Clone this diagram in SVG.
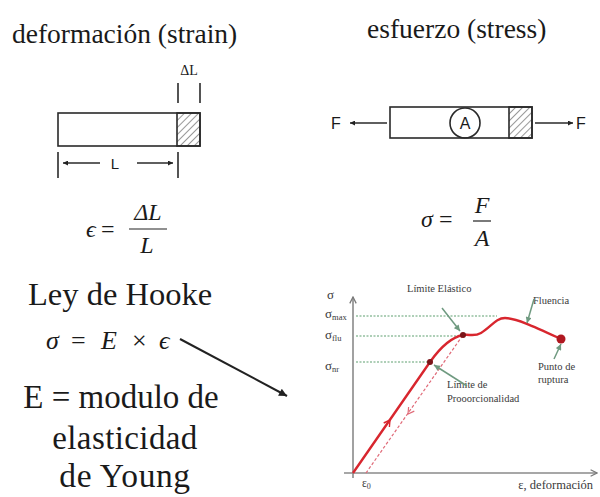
<svg xmlns="http://www.w3.org/2000/svg" width="600" height="497" viewBox="0 0 600 497">
<defs>
<style>
.t{font-family:"Liberation Serif","DejaVu Serif",serif;fill:#1a1a1a}
.m{font-family:"Liberation Serif","DejaVu Serif",serif;font-style:italic;fill:#1a1a1a}
.n{font-family:"Liberation Serif","DejaVu Serif",serif;fill:#1a1a1a}
.s{font-family:"Liberation Sans","DejaVu Sans",sans-serif;fill:#1a1a1a}
.g{font-family:"Liberation Serif","DejaVu Serif",serif;fill:#3a3a3a}
.ln{stroke:#2a2a2a;stroke-width:1.6;fill:none}
.gd{stroke:#5f9f70;stroke-width:1.2;stroke-dasharray:2,1.5;fill:none}
.ga{stroke:#6f9a80;stroke-width:1.5;fill:none}
.ax{stroke:#8a8a8a;stroke-width:1.6;fill:none}
.red{stroke:#d8262e;stroke-width:2.4;fill:none}
</style>
<pattern id="hatch" width="5" height="5" patternUnits="userSpaceOnUse" patternTransform="rotate(45)">
<line x1="0" y1="0" x2="0" y2="5" stroke="#333" stroke-width="1"/>
</pattern>
<marker id="ah" viewBox="0 0 10 10" refX="10" refY="5" markerWidth="8" markerHeight="5" markerUnits="userSpaceOnUse" orient="auto">
<path d="M0,0 L10,5 L0,10 Z" fill="#222"/>
</marker>
<marker id="ahb" viewBox="0 0 10 10" refX="10" refY="5" markerWidth="11" markerHeight="8" markerUnits="userSpaceOnUse" orient="auto">
<path d="M0,0 L10,5 L0,10 Z" fill="#222"/>
</marker>
<marker id="ahg" viewBox="0 0 10 10" refX="10" refY="5" markerWidth="7" markerHeight="6" markerUnits="userSpaceOnUse" orient="auto">
<path d="M0,0 L10,5 L0,10 Z" fill="#6f9a80"/>
</marker>
<marker id="aha" viewBox="0 0 10 10" refX="9" refY="5" markerWidth="8" markerHeight="8" markerUnits="userSpaceOnUse" orient="auto">
<path d="M1,1 L9,5 L1,9" fill="none" stroke="#7a7a7a" stroke-width="1.6"/>
</marker>
</defs>
<rect width="600" height="497" fill="#fff"/>

<g id="strain-title"><text class="t" x="12" y="43" font-size="27.5">deformación (strain)</text></g>

<g id="strain-bar">
<rect x="58" y="113" width="142" height="33" class="ln"/>
<rect x="177" y="113" width="23" height="33" fill="url(#hatch)" stroke="#2a2a2a" stroke-width="1.6"/>
<text class="t" x="189" y="75" font-size="14" text-anchor="middle">ΔL</text>
<line x1="178" y1="83" x2="178" y2="103" class="ln"/>
<line x1="200" y1="83" x2="200" y2="103" class="ln"/>
<line x1="58" y1="152" x2="58" y2="178" class="ln"/>
<line x1="178" y1="152" x2="178" y2="178" class="ln"/>
<text class="s" x="115" y="169" font-size="15" text-anchor="middle">L</text>
</g>

<g id="strain-formula">
<text class="m" x="86" y="237" font-size="24">ϵ</text>
<text class="n" x="101" y="237" font-size="24">=</text>
<text class="m" x="148" y="220" font-size="24" text-anchor="middle">ΔL</text>
<line x1="129" y1="229" x2="167" y2="229" stroke="#222" stroke-width="1.2"/>
<text class="m" x="147" y="253" font-size="24" text-anchor="middle">L</text>
</g>

<g id="stress-title"><text class="t" x="367" y="38" font-size="27.5">esfuerzo (stress)</text></g>

<g id="stress-bar">
<rect x="390" y="107" width="142" height="31" class="ln"/>
<rect x="509" y="107" width="23" height="31" fill="url(#hatch)" stroke="#2a2a2a" stroke-width="1.6"/>
<circle cx="465" cy="123" r="15" class="ln"/>
<text class="s" x="465" y="129" font-size="16" text-anchor="middle">A</text>
<text class="s" x="336" y="129" font-size="16" text-anchor="middle">F</text>
<text class="s" x="581" y="129" font-size="16" text-anchor="middle">F</text>
</g>

<g id="stress-formula">
<text class="m" x="421" y="227" font-size="24">σ</text>
<text class="n" x="439" y="227" font-size="24">=</text>
<text class="m" x="482" y="213" font-size="24" text-anchor="middle">F</text>
<line x1="473" y1="221" x2="491" y2="221" stroke="#222" stroke-width="1.2"/>
<text class="m" x="482" y="246" font-size="24" text-anchor="middle">A</text>
</g>

<g id="hooke">
<text class="t" x="28" y="305" font-size="32.5">Ley de Hooke</text>
<text class="m" x="46" y="349" font-size="26">σ</text>
<text class="n" x="71" y="349" font-size="26">=</text>
<text class="m" x="101" y="349" font-size="26">E</text>
<text class="n" x="132" y="349" font-size="26">×</text>
<text class="m" x="159" y="349" font-size="26">ϵ</text>
<text class="t" x="121" y="408" font-size="33" text-anchor="middle">E = modulo de</text>
<text class="t" x="125" y="449" font-size="33" text-anchor="middle" letter-spacing="0.4">elasticidad</text>
<text class="t" x="125" y="487" font-size="33.5" text-anchor="middle" letter-spacing="0.6">de Young</text>
</g>

<g id="graph">
<line x1="353" y1="478" x2="353" y2="297" class="ax" marker-end="url(#aha)"/>
<line x1="344" y1="473" x2="597" y2="473" class="ax" marker-end="url(#aha)"/>
<text class="g" x="327" y="299" font-size="13">σ</text>
<text class="g" x="325" y="318" font-size="13">σ<tspan font-size="8.5" dy="2">max</tspan></text>
<text class="g" x="325" y="339" font-size="13">σ<tspan font-size="8.5" dy="2">flu</tspan></text>
<text class="g" x="325" y="370" font-size="13">σ<tspan font-size="8.5" dy="2">nr</tspan></text>
<line x1="356" y1="316" x2="497" y2="316" class="gd"/>
<line x1="356" y1="336" x2="463" y2="336" class="gd"/>
<line x1="356" y1="362" x2="430" y2="362" class="gd"/>
<line x1="366" y1="473" x2="463" y2="335" stroke="#e06a78" stroke-width="1.2" stroke-dasharray="3,2"/>
<path d="M414.3,411.1 L408,414 L408.6,407" stroke="#e06a78" stroke-width="1.2" fill="none"/>
<path d="M353,473 L430,362 Q447,338 463,335 C470,334 474,337 481,333 C491,327 496,318 505,318 C516,318 535,327 561,339" class="red"/>
<path d="M383.7,423 L390,420 L389.4,427" stroke="#d8262e" stroke-width="1.4" fill="none"/>
<circle cx="430" cy="362" r="3" fill="#7a1418"/>
<circle cx="463" cy="335" r="3" fill="#7a1418"/>
<circle cx="561" cy="339" r="4.5" fill="#b01820"/>
<text class="g" x="362" y="487" font-size="11.5">ε<tspan font-size="8" dy="2">0</tspan></text>
<text class="g" x="593" y="489" font-size="12.5" text-anchor="end">ε, deformación</text>
<text class="g" x="407" y="292" font-size="10.5">Límite Elástico</text>
<text class="g" x="533" y="304" font-size="10.5">Fluencia</text>
<text class="g" x="538" y="370" font-size="10.5">Punto de</text>
<text class="g" x="538" y="383" font-size="10.5">ruptura</text>
<text class="g" x="447" y="388" font-size="10.5">Límite de</text>
<text class="g" x="447" y="402" font-size="10.5">Prooorcionalidad</text>
</g>

<g id="connectors">
<line x1="100" y1="163" x2="63" y2="163" class="ln" marker-end="url(#ah)"/>
<line x1="137" y1="163" x2="173" y2="163" class="ln" marker-end="url(#ah)"/>
<line x1="387" y1="123" x2="350" y2="123" class="ln" marker-end="url(#ah)"/>
<line x1="535" y1="123" x2="573" y2="123" class="ln" marker-end="url(#ah)"/>
<line x1="180" y1="339" x2="287" y2="396" stroke="#222" stroke-width="2" marker-end="url(#ahb)"/>
<line x1="442" y1="308" x2="460" y2="331" class="ga" marker-end="url(#ahg)"/>
<line x1="467" y1="386" x2="434" y2="365" class="ga" marker-end="url(#ahg)"/>
<line x1="534" y1="299" x2="527" y2="323" class="ga" marker-end="url(#ahg)"/>
<line x1="554" y1="359" x2="561" y2="344" class="ga" marker-end="url(#ahg)"/>
</g>
</svg>
